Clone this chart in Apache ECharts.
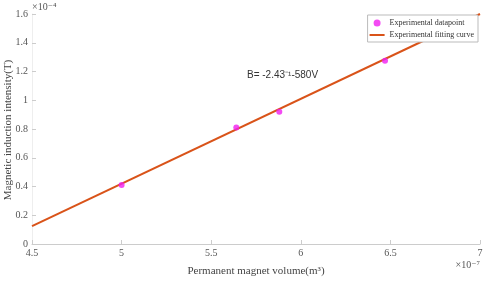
<!DOCTYPE html>
<html><head><meta charset="utf-8">
<script src="https://cdn.jsdelivr.net/npm/echarts@6/dist/echarts.min.js"></script>
<style>html,body{margin:0;padding:0;background:#fff}#c{width:491px;height:282px}</style>
</head><body><div id="c"></div>
<script>
var xTicks = [4.5, 5, 5.5, 6, 6.5, 7];
var yTicks = [0, 0.2, 0.4, 0.6, 0.8, 1, 1.2, 1.4, 1.6];
var pointX = [5.0, 5.64, 5.88, 6.47];
var pointY = [0.41, 0.81, 0.92, 1.275];
var fitX = [4.5, 7.0];
var fitY = [0.125, 1.60];
var seriesNames = ['Experimental datapoint', 'Experimental fitting curve'];
var xTitle = 'Permanent magnet volume(m\u00B3)';
var yTitle = 'Magnetic induction intensity(T)';
var equation = 'B= -2.43\u207B\u00B9-580V';

var serif = '"Liberation Serif","DejaVu Serif",serif';
var chart = echarts.init(document.getElementById('c'), null, {renderer: 'canvas'});
var lineCol = '#ccc';
chart.setOption({
  animation: false,
  grid: {left: 32, right: 11, top: 14, bottom: 38, containLabel: false, outerBoundsMode: 'none'},
  xAxis: {
    type: 'value', min: xTicks[0], max: xTicks[xTicks.length - 1], interval: 0.5,
    name: xTitle, nameLocation: 'middle', nameGap: 22,
    nameTextStyle: {fontFamily: serif, fontSize: 11, color: '#444'},
    axisLine: {show: true, lineStyle: {color: lineCol}},
    axisTick: {show: true, inside: true, length: 4, lineStyle: {color: lineCol}},
    axisLabel: {fontFamily: serif, fontSize: 10, color: '#555', margin: 4},
    splitLine: {show: false}
  },
  yAxis: {
    type: 'value', min: yTicks[0], max: yTicks[yTicks.length - 1], interval: 0.2,
    axisLine: {show: true, lineStyle: {color: '#eee'}},
    axisTick: {show: true, inside: true, length: 4, lineStyle: {color: lineCol}},
    axisLabel: {fontFamily: serif, fontSize: 10, color: '#555', margin: 4,
      formatter: function (v) { return String(Math.round(v * 10) / 10); }},
    splitLine: {show: false}
  },
  legend: {
    right: 13, top: 15, orient: 'vertical', itemGap: 4, itemWidth: 15, itemHeight: 7,
    padding: [4, 4, 3, 2],
    borderColor: '#bbb', borderWidth: 1, backgroundColor: '#fff',
    textStyle: {fontFamily: serif, fontSize: 8, color: '#333'},
    data: [{name: seriesNames[0], icon: 'circle'},
           {name: seriesNames[1], icon: 'path://M0,0H30V4H0Z'}]
  },
  graphic: [
    {type: 'text', x: 8, y: 130, rotation: Math.PI / 2,
     style: {text: yTitle, font: '11px ' + serif, fill: '#444', align: 'center', verticalAlign: 'middle'}},
    {type: 'text', left: 32, top: 2, style: {text: '\u00D710\u207B\u2074', font: '10px ' + serif, fill: '#555'}},
    {type: 'text', right: 11, top: 260, style: {text: '\u00D710\u207B\u2077', font: '10px ' + serif, fill: '#555'}},
    {type: 'text', left: 247, top: 70, style: {text: equation, font: '10px "Liberation Sans",Arial,sans-serif', fill: '#333'}}
  ],
  series: [
    {
      name: seriesNames[1], type: 'line', symbol: 'none', z: 2,
      lineStyle: {color: '#D95319', width: 2},
      itemStyle: {color: '#D95319'},
      data: fitX.map(function (x, i) { return [x, fitY[i]]; })
    },
    {
      name: seriesNames[0], type: 'scatter', symbol: 'circle', symbolSize: 6, z: 3,
      itemStyle: {color: '#f01ef0'},
      data: pointX.map(function (x, i) { return [x, pointY[i]]; })
    }
  ]
});
</script></body></html>
